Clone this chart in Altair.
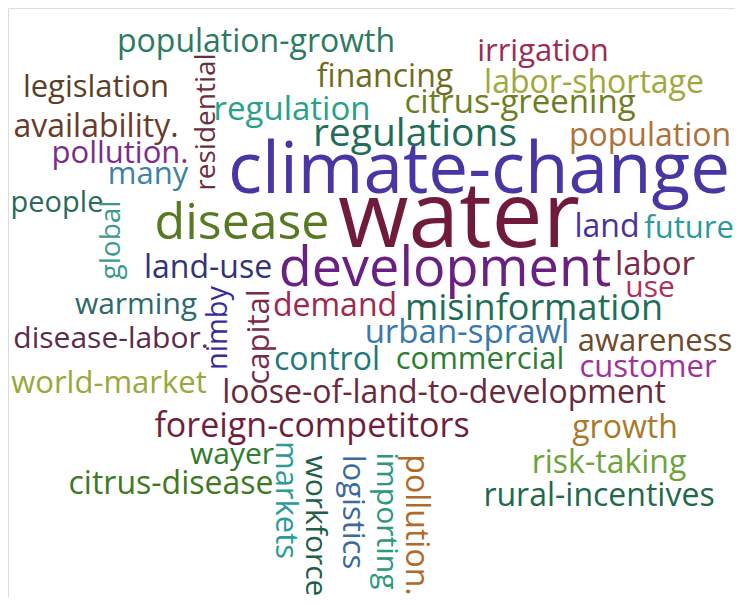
import altair as alt
import pandas as pd

words = [
    "population-growth", "irrigation", "legislation", "residential", "financing",
    "labor-shortage", "regulation", "citrus-greening", "availability.", "regulations",
    "population", "pollution.", "climate-change", "many", "people", "global",
    "disease", "water", "land", "future", "land-use", "development", "labor", "use",
    "warming", "nimby", "capital", "demand", "misinformation", "disease-labor.",
    "urban-sprawl", "awareness", "control", "commercial", "customer", "world-market",
    "loose-of-land-to-development", "foreign-competitors", "growth", "wayer",
    "citrus-disease", "markets", "workforce", "logistics", "importing", "pollution.",
    "risk-taking", "rural-incentives",
]
weights = [
    32, 31, 31, 28, 32,
    32, 33, 33, 32, 39,
    32, 31, 71, 31, 29, 28,
    50, 91, 32, 31, 32, 54, 33, 30,
    30, 29, 31, 32, 36, 30,
    33, 31, 32, 31, 31, 31,
    32, 34, 32, 30,
    32, 31, 30, 31, 30, 32,
    32, 32,
]
# layout of the cloud (word centres, in picture pixels) and rotation
pos_x = [
    256, 543, 96, 207, 385,
    594, 292, 520, 96, 415,
    650, 120, 479, 148, 57, 112,
    242, 459, 607, 689, 208, 445, 655, 650,
    136, 218, 260, 335, 534, 111,
    467, 655, 327, 480, 648, 109,
    444, 312, 625, 232,
    171, 285, 315, 352, 386, 416,
    609, 599,
]
pos_y = [
    42, 52, 88, 122, 77,
    83, 110, 103, 127, 134,
    136, 154, 172, 175, 203, 240,
    224, 220, 227, 229, 268, 270, 265, 288,
    305, 328, 337, 306, 309, 339,
    333, 342, 360, 360, 368, 384,
    393, 427, 428, 455,
    484, 500, 526, 512, 521, 525,
    463, 496,
]
angles = [
    0, 0, 0, 270, 0,
    0, 0, 0, 0, 0,
    0, 0, 0, 0, 0, 270,
    0, 0, 0, 0, 0, 0, 0, 0,
    0, 270, 270, 0, 0, 0,
    0, 0, 0, 0, 0, 0,
    0, 0, 0, 0,
    0, 90, 90, 90, 90, 90,
    0, 0,
]
colors = [
    "#2b7a62", "#a02a52", "#5e3f26", "#6b2e3c", "#6e6c20",
    "#a0a83a", "#2aa08a", "#6e7d20", "#6b3a2a", "#1f6e5a",
    "#b0703a", "#7a2e8a", "#4a35a5", "#3c82a8", "#2a6a5a", "#3a9a8a",
    "#557a20", "#701a3c", "#4a30a0", "#2a9a9a", "#33337a", "#6a2080", "#7a2a4a", "#b0305a",
    "#2a6a6a", "#3a2aa0", "#7a2a4a", "#a0284a", "#1e6e5a", "#5e2a4a",
    "#3a7aaa", "#6e4a2a", "#1e7a7a", "#2e7d32", "#a3309a", "#9aa83a",
    "#6b2a3c", "#701e3c", "#a87a2a", "#2e7d2e",
    "#3e7a22", "#2a9a9a", "#1e5e4a", "#3a6aa0", "#2a9a7a", "#b06a2a",
    "#6da33a", "#1e6a4a",
]

df = pd.DataFrame({
    "word": words, "weight": weights, "px": pos_x, "py": pos_y,
    "angle": angles, "color": colors,
})

chart = alt.Chart(df).mark_text(
    font="Open Sans", align="center", baseline="middle"
).encode(
    x=alt.X("px:Q", scale=alt.Scale(domain=[8, 735], nice=False, zero=False), axis=None),
    y=alt.Y("py:Q", scale=alt.Scale(domain=[8, 597], nice=False, zero=False, reverse=True), axis=None),
    text="word:N",
    size=alt.Size("weight:Q", scale=None, legend=None),
    angle=alt.Angle("angle:Q", scale=None),
    color=alt.Color("color:N", scale=None, legend=None),
).properties(
    width=727, height=589, autosize=alt.AutoSizeParams(type="none"), padding=0,
).configure_view(stroke="transparent", strokeWidth=0).configure(background="white")

chart.save("out.html", embed_options={"renderer": "svg", "actions": False})
